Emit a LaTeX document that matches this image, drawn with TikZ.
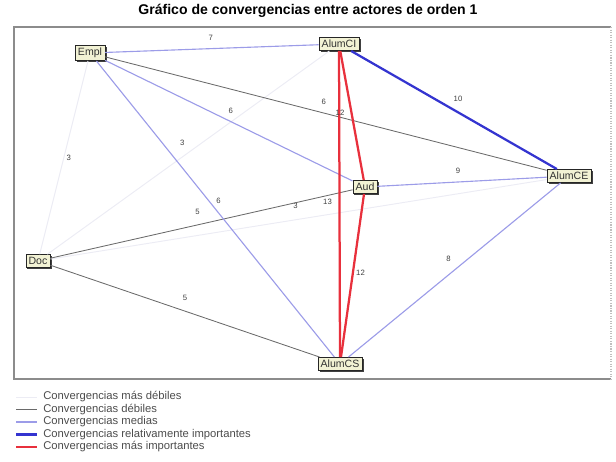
\documentclass[tikz,border=0pt]{standalone}
\usepackage{fontspec}
\setmainfont{Liberation Sans}
\usetikzlibrary{shadows}

\definecolor{muydebil}{HTML}{ECECF4}
\definecolor{debilc}{HTML}{6A6A6A}
\definecolor{mediac}{HTML}{9C9CE8}
\definecolor{relimpc}{HTML}{3434D0}
\definecolor{masimpc}{HTML}{E8303C}
\definecolor{actorfill}{HTML}{F2F2D4}

\begin{document}
\begin{tikzpicture}[x=0.025cm, y=-0.025cm,
	actor/.style={draw=black!85, fill=actorfill, inner sep=2pt,
		font=\fontsize{7.5}{8}\selectfont, text=black!80,
		drop shadow={shadow xshift=1.2pt, shadow yshift=-1.2pt, fill=black!75, opacity=1}},
	lbl/.style={font=\fontsize{5.5}{6}\selectfont, text=black!75, inner sep=0.5pt},
	legtext/.style={font=\fontsize{8}{9}\selectfont, text=black!70, anchor=west, inner sep=0pt},
	masdebil/.style={draw=muydebil, line width=0.7pt},
	debil/.style={draw=debilc, line width=0.6pt},
	media/.style={draw=mediac, line width=0.8pt},
	relimp/.style={draw=relimpc, line width=1.6pt},
	masimp/.style={draw=masimpc, line width=1.6pt}]

	\useasboundingbox (0,0) rectangle (616,461);

	% Title and frame.
	\node[font=\fontsize{10}{11}\selectfont\bfseries] (title) at (308,11) {Gráfico de convergencias entre actores de orden 1};
	\draw[black!45, line width=1.4pt] (611,27) -- (14,27) -- (14,379) -- (611,379);
	\draw[black!25, densely dotted, line width=0.8pt] (611,27) -- (611,379);

	% Actor node definitions.
	\node[actor]   (empl) at  (90,53) {Empl};
	\node[actor] (alumci) at (339,44) {AlumCI};
	\node[actor] (alumce) at (569,176) {AlumCE};
	\node[actor]    (aud) at (365,187) {Aud};
	\node[actor]    (doc) at  (38,261) {Doc};
	\node[actor] (alumcs) at (340,364) {AlumCS};

	% Convergences.
	\draw[masdebil]   (empl) -- node[lbl, midway, shift={(5,0)}] {3} (doc);
	\draw[masdebil]    (doc) -- node[lbl, midway, shift={(-6,-10)}] {3} (alumci);
	\draw[masdebil]    (doc) -- node[lbl, midway, shift={(-3,-13)}] {3} (alumce);
	\draw[debil]      (empl) -- node[lbl, midway, shift={(-2,-12)}] {6} (alumce);
	\draw[debil]       (doc) -- node[lbl, midway, shift={(-4,-12)}] {5} (aud);
	\draw[debil]       (doc) -- node[lbl, midway, shift={(0,-13)}] {5} (alumcs);
	\draw[media]      (empl) -- node[lbl, midway, shift={(-1,-11)}] {7} (alumci);
	\draw[media]      (empl) -- node[lbl, midway, shift={(2,-10)}] {6} (aud);
	\draw[media]      (empl) -- node[lbl, midway, shift={(3,-8)}] {6} (alumcs);
	\draw[media]       (aud) -- node[lbl, midway, shift={(-4,-11)}] {9} (alumce);
	\draw[media]    (alumce) -- node[lbl, midway, shift={(-6,-11)}] {8} (alumcs);
	\draw[relimp]   (alumci) -- node[lbl, midway, shift={(4,-11)}] {10} (alumce);
	\draw[masimp]   (alumci) -- node[lbl, midway, shift={(-12,-2)}] {13} (alumcs);
	\draw[masimp]   (alumci) -- node[lbl, midway, shift={(-12,-3)}] {12} (aud);
	\draw[masimp]      (aud) -- node[lbl, midway, shift={(8,-3)}] {12} (alumcs);

	% Legend.
	\foreach \st/\txt [count=\i] in {masdebil/Convergencias más débiles,
		debil/Convergencias débiles,
		media/Convergencias medias,
		relimp/Convergencias relativamente importantes,
		masimp/Convergencias más importantes} {
		\draw[\st] (16,{384.5+12.5*\i}) -- (37,{384.5+12.5*\i});
		\node[legtext] (leg\i) at (43,{384.5+12.5*\i}) {\txt};
	}

\end{tikzpicture}
\end{document}
